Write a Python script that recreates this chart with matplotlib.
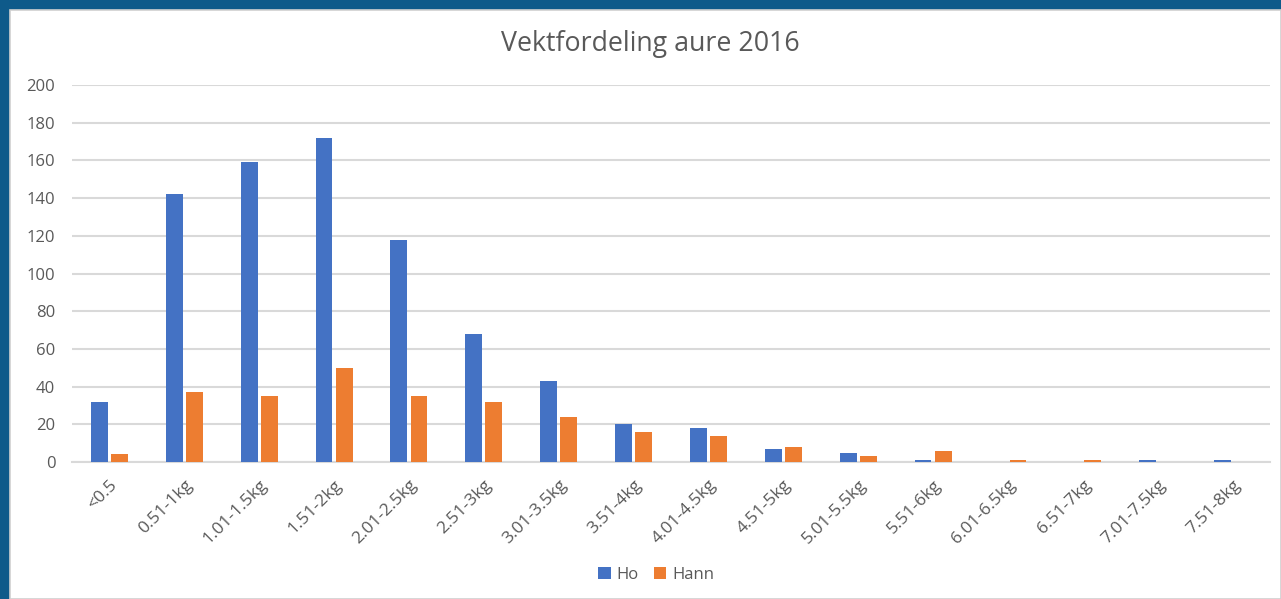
import matplotlib
matplotlib.use("Agg")
import matplotlib.pyplot as plt
from matplotlib.patches import Rectangle
import numpy as np

categories = ["<0.5", "0.51-1kg", "1.01-1.5kg", "1.51-2kg", "2.01-2.5kg", "2.51-3kg",
              "3.01-3.5kg", "3.51-4kg", "4.01-4.5kg", "4.51-5kg", "5.01-5.5kg", "5.51-6kg",
              "6.01-6.5kg", "6.51-7kg", "7.01-7.5kg", "7.51-8kg"]
ho = [32, 142, 159, 172, 118, 68, 43, 20, 18, 7, 5, 1, 0, 0, 1, 1]
hann = [4, 37, 35, 50, 35, 32, 24, 16, 14, 8, 3, 6, 1, 1, 0, 0]
yticks = [0, 20, 40, 60, 80, 100, 120, 140, 160, 180, 200]

plt.rcParams['font.family'] = ['Open Sans', 'DejaVu Sans']
W, H = 1281, 599
fig = plt.figure(figsize=(W / 100, H / 100), dpi=100)
fig.patch.set_facecolor('#0e5a8a')

# white chart area (background axes)
bg = fig.add_axes([0, 0, 1, 1], zorder=-5)
bg.set_xlim(0, W)
bg.set_ylim(H, 0)
bg.axis('off')
bg.add_patch(Rectangle((10, 10), W - 10, H - 10, facecolor='white', edgecolor='#d0d0d0',
                       linewidth=1.2))

ax = fig.add_axes([72 / W, 1 - 462 / H, 1198 / W, (462 - 85) / H], zorder=2)
ax.set_facecolor('none')
x = np.arange(len(categories))
bw = 0.225
ax.bar(x - 0.135, ho, bw, color='#4472C4', label='Ho', zorder=3)
ax.bar(x + 0.135, hann, bw, color='#ED7D31', label='Hann', zorder=3)

ax.set_xlim(-0.5, len(categories) - 0.5)
ax.set_ylim(0, 200)
ax.set_yticks(yticks)
ax.yaxis.grid(True, color='#d9d9d9', linewidth=1.5, zorder=0)
ax.set_axisbelow(True)
for s in ['top', 'right', 'left']:
    ax.spines[s].set_visible(False)
ax.spines['bottom'].set_color('#d9d9d9')
ax.spines['bottom'].set_linewidth(1.5)
ax.tick_params(axis='both', length=0, colors='#595959')
ax.tick_params(axis='y', pad=12, labelsize=12)
ax.set_xticks(x)
ax.set_xticklabels(categories, rotation=45, ha='right', rotation_mode='anchor')
ax.tick_params(axis='x', pad=11, labelsize=12.5)

fig.text(650 / W, 1 - 44 / H, 'Vektfordeling aure 2016', ha='center', va='center',
         fontsize=19.3, color='#595959')

fig.legend(loc='center', bbox_to_anchor=(656 / W, 1 - 575 / H), ncol=2, frameon=False,
           fontsize=12, labelcolor='#595959', handlelength=0.75, handleheight=0.75,
           handletextpad=0.35, columnspacing=0.9)

fig.savefig('out.png', dpi=100, facecolor=fig.get_facecolor())
